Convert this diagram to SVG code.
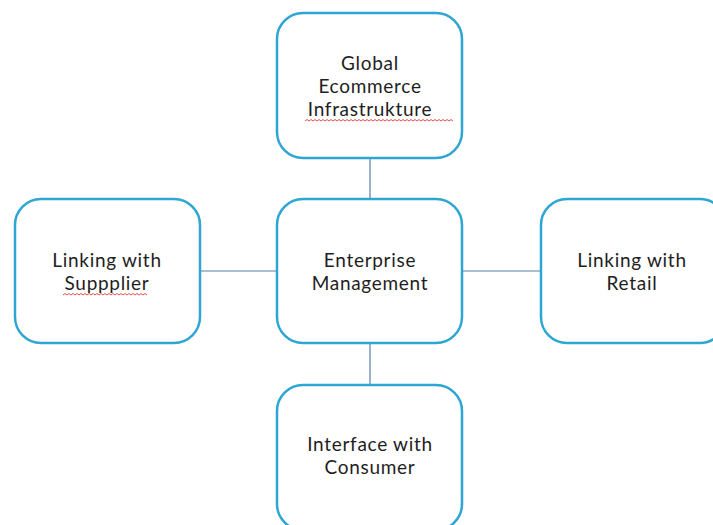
<svg xmlns="http://www.w3.org/2000/svg" width="713" height="525" viewBox="0 0 713 525">
  <defs>
    <style>
      .box { fill: #ffffff; stroke: #2ea6d4; stroke-width: 2.5; }
      .link { stroke: #5b7fa6; stroke-width: 1.2; fill: none; }
      .label { font-family: Lato, "Liberation Sans", sans-serif; font-size: 19px; letter-spacing: 0.7px; fill: #1e1e1e; text-anchor: middle; }
      .squiggle { stroke: #e03c3c; stroke-width: 0.9; fill: none; }
    </style>
  </defs>
  <rect width="713" height="525" fill="#ffffff"/>

  <!-- connectors -->
  <g id="connectors">
    <line class="link" x1="370" y1="159" x2="370" y2="198"/>
    <line class="link" x1="200" y1="271" x2="277" y2="271"/>
    <line class="link" x1="463" y1="271" x2="541" y2="271"/>
    <line class="link" x1="370" y1="344" x2="370" y2="385"/>
  </g>

  <g id="global-ecommerce">
    <rect class="box" x="277" y="13" width="185" height="145" rx="26"/>
    <text class="label" x="370" y="70">Global</text>
    <text class="label" x="370" y="93">Ecommerce</text>
    <text class="label" x="370" y="116">Infrastrukture</text>
    <path class="squiggle" d="M305,121 l2,-1.5 2,1.5 2,-1.5 2,1.5 2,-1.5 2,1.5 2,-1.5 2,1.5 2,-1.5 2,1.5 2,-1.5 2,1.5 2,-1.5 2,1.5 2,-1.5 2,1.5 2,-1.5 2,1.5 2,-1.5 2,1.5 2,-1.5 2,1.5 2,-1.5 2,1.5 2,-1.5 2,1.5 2,-1.5 2,1.5 2,-1.5 2,1.5 2,-1.5 2,1.5 2,-1.5 2,1.5 2,-1.5 2,1.5 2,-1.5 2,1.5 2,-1.5 2,1.5 2,-1.5 2,1.5 2,-1.5 2,1.5 2,-1.5 2,1.5 2,-1.5 2,1.5 2,-1.5 2,1.5 2,-1.5 2,1.5 2,-1.5 2,1.5 2,-1.5 2,1.5 2,-1.5 2,1.5 2,-1.5 2,1.5 2,-1.5 2,1.5 2,-1.5 2,1.5 2,-1.5 2,1.5 2,-1.5 2,1.5 2,-1.5 2,1.5 2,-1.5 2,1.5 2,-1.5 2,1.5"/>
  </g>

  <g id="enterprise-management">
    <rect class="box" x="277" y="199" width="185" height="144" rx="26"/>
    <text class="label" x="370" y="267">Enterprise</text>
    <text class="label" x="370" y="290">Management</text>
  </g>

  <g id="linking-supplier">
    <rect class="box" x="15" y="199" width="185" height="144" rx="26"/>
    <text class="label" x="107" y="267">Linking with</text>
    <text class="label" x="107" y="290">Suppplier</text>
    <path class="squiggle" d="M63,295 l2,-1.5 2,1.5 2,-1.5 2,1.5 2,-1.5 2,1.5 2,-1.5 2,1.5 2,-1.5 2,1.5 2,-1.5 2,1.5 2,-1.5 2,1.5 2,-1.5 2,1.5 2,-1.5 2,1.5 2,-1.5 2,1.5 2,-1.5 2,1.5 2,-1.5 2,1.5 2,-1.5 2,1.5 2,-1.5 2,1.5 2,-1.5 2,1.5 2,-1.5 2,1.5 2,-1.5 2,1.5 2,-1.5 2,1.5 2,-1.5 2,1.5 2,-1.5 2,1.5 2,-1.5 2,1.5"/>
  </g>

  <g id="linking-retail">
    <rect class="box" x="541" y="199" width="185" height="144" rx="26"/>
    <text class="label" x="632" y="267">Linking with</text>
    <text class="label" x="632" y="290">Retail</text>
  </g>

  <g id="interface-consumer">
    <rect class="box" x="277" y="385" width="185" height="145" rx="26"/>
    <text class="label" x="370" y="451">Interface with</text>
    <text class="label" x="370" y="474">Consumer</text>
  </g>
</svg>
